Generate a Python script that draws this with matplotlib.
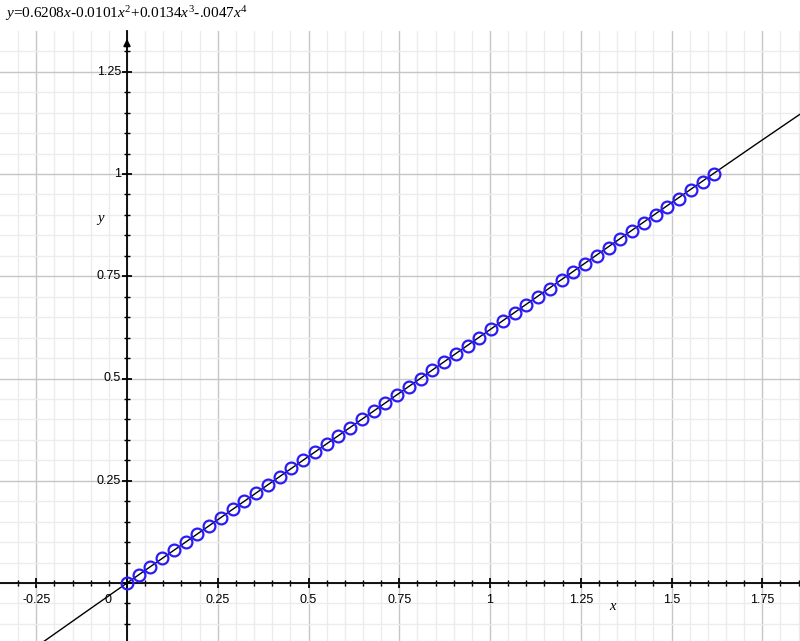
import matplotlib
matplotlib.use("Agg")
import matplotlib.pyplot as plt
import numpy as np
from matplotlib.ticker import MultipleLocator

# Data points
x_pts = [0, 0.0324, 0.0647, 0.0971, 0.1294, 0.1618, 0.1942, 0.2265, 0.2589, 0.2912,
         0.3236, 0.356, 0.3883, 0.4207, 0.453, 0.4854, 0.5178, 0.5501, 0.5825, 0.6148,
         0.6472, 0.6796, 0.7119, 0.7443, 0.7766, 0.809, 0.8414, 0.8737, 0.9061, 0.9384,
         0.9708, 1.0032, 1.0355, 1.0679, 1.1002, 1.1326, 1.165, 1.1973, 1.2297, 1.262,
         1.2944, 1.3268, 1.3591, 1.3915, 1.4238, 1.4562, 1.4886, 1.5209, 1.5533, 1.5856, 1.618]
y_pts = [0, 0.02, 0.04, 0.06, 0.08, 0.10, 0.12, 0.14, 0.16, 0.18,
         0.20, 0.22, 0.24, 0.26, 0.28, 0.30, 0.32, 0.34, 0.36, 0.38,
         0.40, 0.42, 0.44, 0.46, 0.48, 0.50, 0.52, 0.54, 0.56, 0.58,
         0.60, 0.62, 0.64, 0.66, 0.68, 0.70, 0.72, 0.74, 0.76, 0.78,
         0.80, 0.82, 0.84, 0.86, 0.88, 0.90, 0.92, 0.94, 0.96, 0.98, 1.00]

# Fit polynomial coefficients (from the title)
coef = [0.6208, -0.0101, 0.0134, -0.0047]

x_ticks = [-0.25, 0.25, 0.5, 0.75, 1, 1.25, 1.5, 1.75]
x_tick_labels = ["-0.25", "0.25", "0.5", "0.75", "1", "1.25", "1.5", "1.75"]
y_ticks = [0.25, 0.5, 0.75, 1, 1.25]
y_tick_labels = ["0.25", "0.5", "0.75", "1", "1.25"]

W, H = 800, 641
fig = plt.figure(figsize=(W / 100, H / 100), dpi=100)
top_px = 31
ax = fig.add_axes([0, 0, 1, (H - top_px) / H])

x0, x1 = -127 / 363, (800 - 127) / 363
y0, y1 = -(641 - 583) / 409, (583 - top_px) / 409
ax.set_xlim(x0, x1)
ax.set_ylim(y0, y1)

# grid
ax.xaxis.set_major_locator(MultipleLocator(0.25))
ax.yaxis.set_major_locator(MultipleLocator(0.25))
ax.xaxis.set_minor_locator(MultipleLocator(0.05))
ax.yaxis.set_minor_locator(MultipleLocator(0.05))
ax.grid(which="minor", color="#ececec", lw=1.0, zorder=0)
ax.grid(which="major", color="#c6c6c6", lw=1.0, zorder=0)
ax.set_axisbelow(True)

for s in ["top", "right"]:
    ax.spines[s].set_visible(False)
ax.spines["left"].set_position(("data", 0))
ax.spines["bottom"].set_position(("data", 0))
ax.spines["left"].set_linewidth(1.3)
ax.spines["bottom"].set_linewidth(1.3)
ax.tick_params(which="major", direction="inout", length=7, width=1.3, labelbottom=False, labelleft=False)
ax.tick_params(which="minor", direction="inout", length=4, width=1.0)

# fitted curve
xs = np.linspace(x0, x1, 400)
ys = xs * (coef[0] + xs * (coef[1] + xs * (coef[2] + xs * coef[3])))
ax.plot(xs, ys, color="black", lw=1.0, zorder=3)

# data points
ax.plot(x_pts, y_pts, linestyle="none", marker="o", markersize=8.5,
        markerfacecolor="none", markeredgecolor="#2b1cf5", markeredgewidth=1.6, zorder=4)

# arrow at top of y axis
ax.annotate("", xy=(0, (583 - 36) / 409), xytext=(0, (583 - 50) / 409),
            arrowprops=dict(arrowstyle="-|>", color="black", lw=1.3, mutation_scale=10),
            zorder=5)

tick_font = dict(family="Liberation Sans", fontsize=9, color="black")
for xv, lab in zip(x_ticks, x_tick_labels):
    ax.annotate(lab, xy=(xv, 0), xytext=(0, -17), textcoords="offset pixels",
                ha="center", va="center", **tick_font)
ax.annotate("0", xy=(0, 0), xytext=(-19, -17), textcoords="offset pixels",
            ha="center", va="center", **tick_font)
for yv, lab in zip(y_ticks, y_tick_labels):
    ax.annotate(lab, xy=(0, yv), xytext=(-6, 0), textcoords="offset pixels",
                ha="right", va="center", **tick_font)

# axis labels
serif_it = dict(family="Liberation Serif", style="italic", fontsize=10.5)
ax.text((612 - 127) / 363, -(607 - 583) / 409, "x", ha="center", va="center", **serif_it)
ax.text((100 - 127) / 363, (583 - 219) / 409, "y", ha="center", va="center", **serif_it)

# title
plt.rcParams["mathtext.fontset"] = "custom"
plt.rcParams["mathtext.rm"] = "Liberation Serif"
plt.rcParams["mathtext.it"] = "Liberation Serif:italic"
title = (r"$y\text{=0.6208}x\text{-0.0101}x^2\text{+0.0134}x^3"
         r"\text{-.0047}x^4$")
fig.text(5 / W, 1 - 14 / H, title, ha="left", va="center", fontsize=11)

fig.savefig("out.png", dpi=100)
